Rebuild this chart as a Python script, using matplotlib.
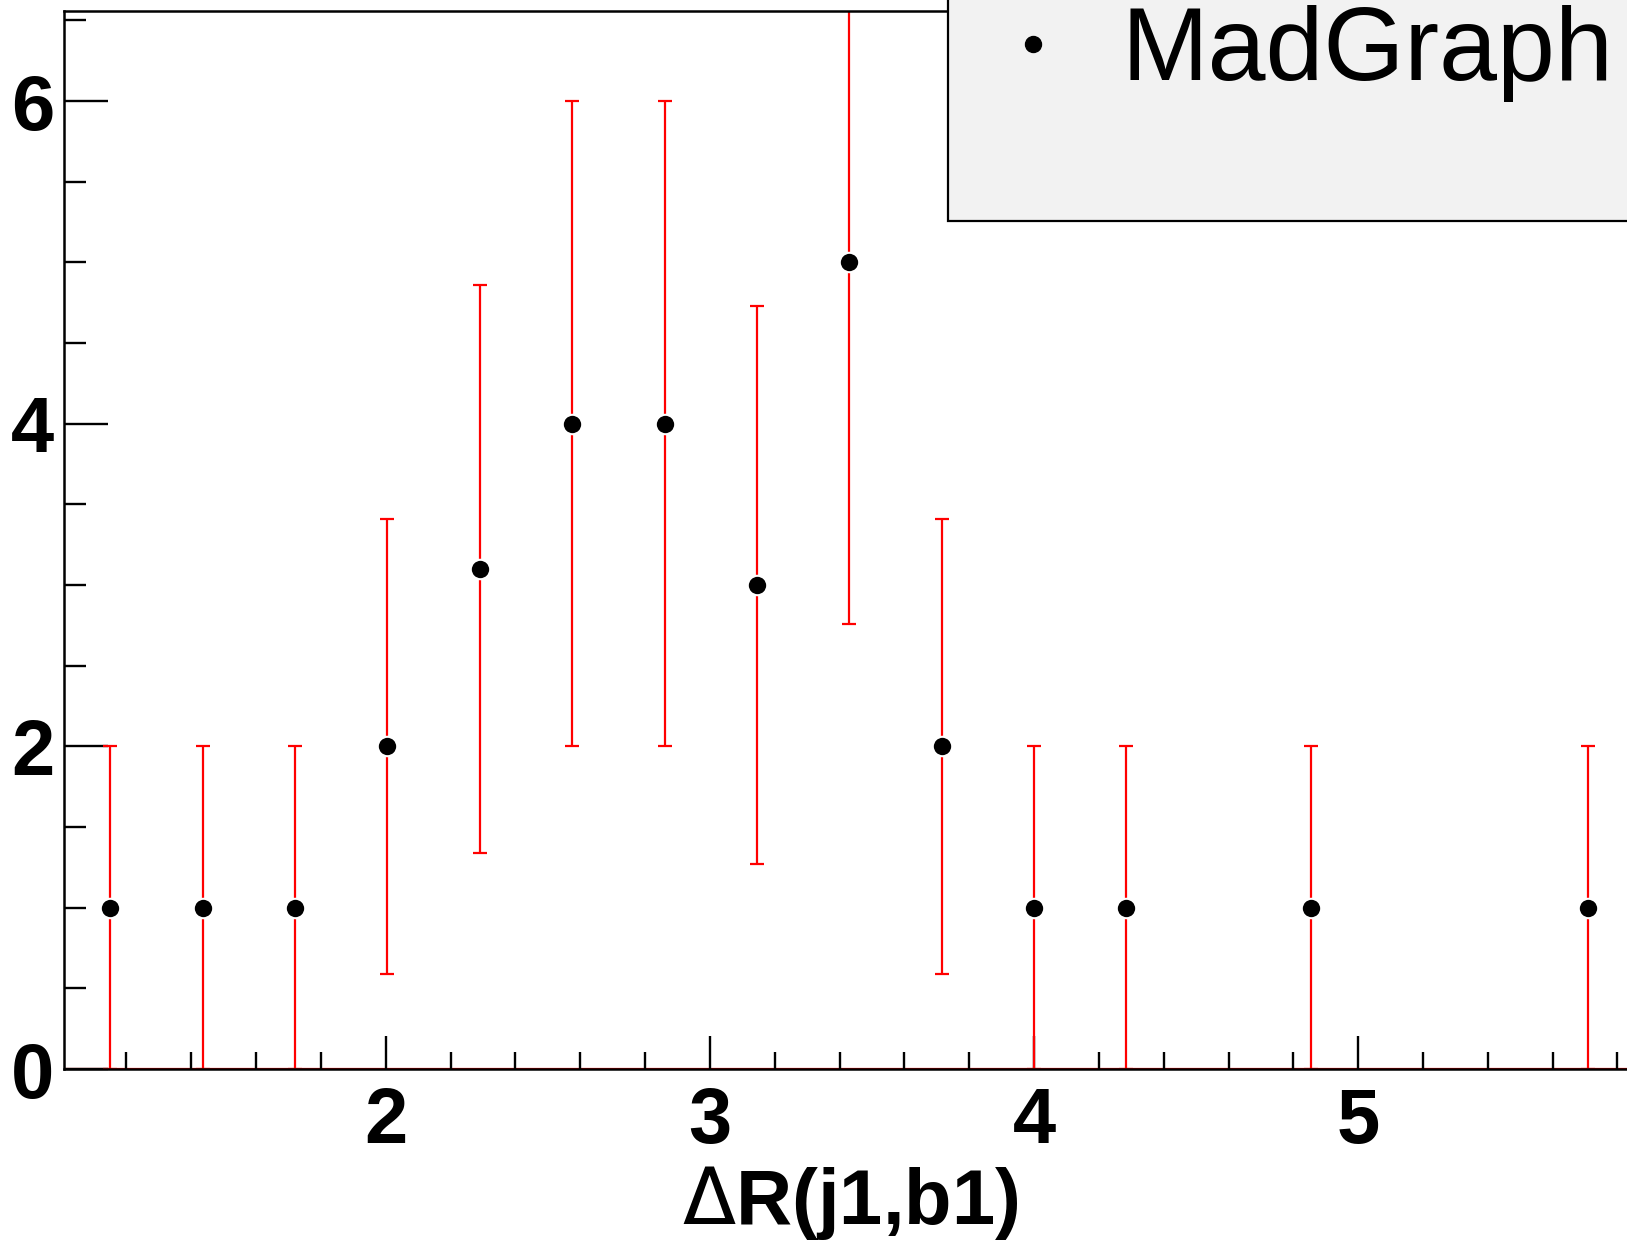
import matplotlib
matplotlib.use('Agg')
import matplotlib.pyplot as plt
from matplotlib.patches import Rectangle
from matplotlib.lines import Line2D
from matplotlib.ticker import MultipleLocator

plt.rcParams['font.family'] = ['Liberation Sans', 'DejaVu Sans']

# bin centres and contents
dr = [1.15, 1.435, 1.72, 2.005, 2.29, 2.575, 2.86, 3.145, 3.43, 3.715, 4.0, 4.285, 4.855, 5.71]
counts = [1, 1, 1, 2, 3.1, 4, 4, 3, 5, 2, 1, 1, 1, 1]
errors = [1, 1, 1, 1.41, 1.76, 2, 2, 1.73, 2.24, 1.41, 1, 1, 1, 1]
legend_label = 'MadGraph'

fig = plt.figure(figsize=(16.27, 12.54), dpi=100)
ax = fig.add_axes([0.0393, 0.1475, 0.966, 0.844])

# zero line in red on the bottom axis
ax.axhline(0, color='red', lw=1.6, zorder=1)

ax.errorbar(dr, counts, yerr=errors, fmt='none', ecolor='red',
            elinewidth=1.6, capsize=5, capthick=1.6, zorder=2)
ax.plot(dr, counts, 'o', color='black', ms=14, mec='white', mew=1.5, zorder=3)

ax.set_xlim(1.007, 5.856)
ax.set_ylim(0, 6.56)

ax.xaxis.set_major_locator(MultipleLocator(1))
ax.xaxis.set_minor_locator(MultipleLocator(0.2))
ax.yaxis.set_major_locator(MultipleLocator(2))
ax.yaxis.set_minor_locator(MultipleLocator(0.5))

ax.tick_params(axis='both', which='both', direction='in', width=1.7,
               top=False, right=False, labelsize=56)
ax.tick_params(axis='x', which='major', length=24, pad=12)
ax.tick_params(axis='x', which='minor', length=12)
ax.tick_params(axis='y', which='major', length=32, pad=7)
ax.tick_params(axis='y', which='minor', length=16)
for lab in ax.get_xticklabels() + ax.get_yticklabels():
    lab.set_fontweight('bold')

for s in ax.spines.values():
    s.set_linewidth(1.8)
ax.spines['right'].set_visible(False)

ax.set_xlabel(r'$\Delta$R(j1,b1)', fontsize=56, fontweight='bold', labelpad=4)

# legend box, cut off at the top right like the original
box = Rectangle((0.5827, 0.8238), 0.5, 0.3, transform=fig.transFigure,
                facecolor='#f2f2f2', edgecolor='black', lw=1.6, zorder=10)
fig.patches.append(box)
fig.lines.append(Line2D([0.635], [0.965], transform=fig.transFigure, marker='o',
                        color='black', ms=11.5, ls='none', zorder=11))
fig.text(0.689, 0.936, legend_label, fontsize=75, ha='left', va='baseline', zorder=12)

fig.savefig('out.png', dpi=100)
